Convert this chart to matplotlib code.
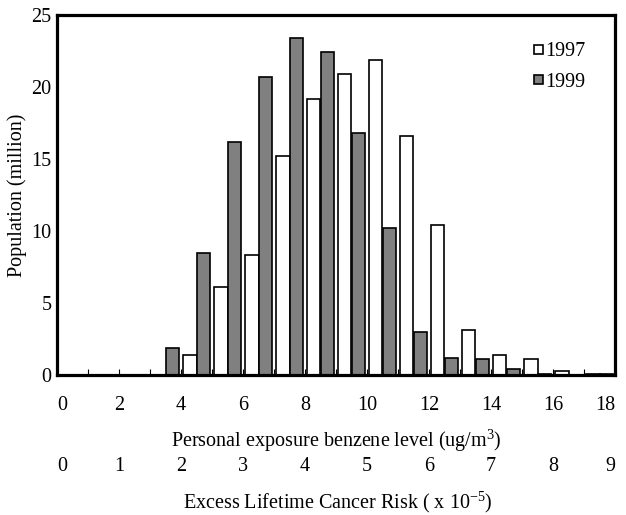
import numpy as np
import matplotlib.pyplot as plt

plt.rc('font', family='Liberation Serif', size=14.5)
plt.rc('mathtext', fontset='custom', rm='Liberation Serif')

# benzene level bins, 1 ug/m3 each (0-1, 1-2, ... 17-18)
bins = np.arange(0, 18)
pop_1997 = [0, 0, 0, 0, 1.4, 6.1, 8.3, 15.2, 19.2, 20.9, 21.9, 16.6, 10.4, 3.1, 1.4, 1.1, 0.3, 0.05]
pop_1999 = [0, 0, 0, 1.9, 8.5, 16.2, 20.7, 23.4, 22.4, 16.8, 10.2, 3.0, 1.2, 1.1, 0.4, 0.05, 0.02, 0.05]

benz_ticks = np.arange(0, 19, 2)
risk_labels = [str(v // 2) for v in benz_ticks]

fig = plt.figure(figsize=(6.26, 5.15), dpi=100)
ax = fig.add_axes([57/626, 1-375/515, 558/626, 360/515])

w = 0.42
ax.bar(bins + 0.5 - w/2, pop_1997, width=w, color='white', edgecolor='black', lw=1.2, label='1997')
ax.bar(bins + 0.5 + w/2, pop_1999, width=w, color='#808080', edgecolor='black', lw=1.2, label='1999')

ax.set_xlim(0, 18)
ax.set_ylim(0, 25)
ax.set_yticks(np.arange(0, 26, 5))
ax.tick_params(axis='y', length=0, pad=4)

ax.set_xticks(np.arange(0, 19))
ax.set_xticklabels([str(v) if v % 2 == 0 else '' for v in range(19)])
ax.tick_params(axis='x', direction='in', length=4, width=0.8, pad=15)
ax.get_xticklabels()[0].set_horizontalalignment('left')
ax.get_xticklabels()[-1].set_horizontalalignment('right')

for s in ax.spines.values():
    s.set_linewidth(2.3)

ax.set_ylabel('Population (million)', labelpad=3)
ax.set_xlabel(r'Personal exposure benzene level (ug/m$^3$)', labelpad=9)

# second row: cancer risk scale
for i, (v, lab) in enumerate(zip(benz_ticks, risk_labels)):
    ha = 'center'
    if i == 0:
        ha = 'left'
    elif i == len(benz_ticks) - 1:
        ha = 'right'
    ax.text(v, -0.253, lab, transform=ax.get_xaxis_transform(), ha=ha, va='center')
fig.text(338/626, 1-502/515, r'Excess Lifetime Cancer Risk ( x 10$^{-5}$)', ha='center', va='center')

ax.legend(loc='upper right', bbox_to_anchor=(0.962, 0.946), frameon=False,
          handlelength=0.45, handleheight=0.3, handletextpad=0.12, labelspacing=0.55,
          borderaxespad=0)

fig.savefig('out.png', dpi=100)
